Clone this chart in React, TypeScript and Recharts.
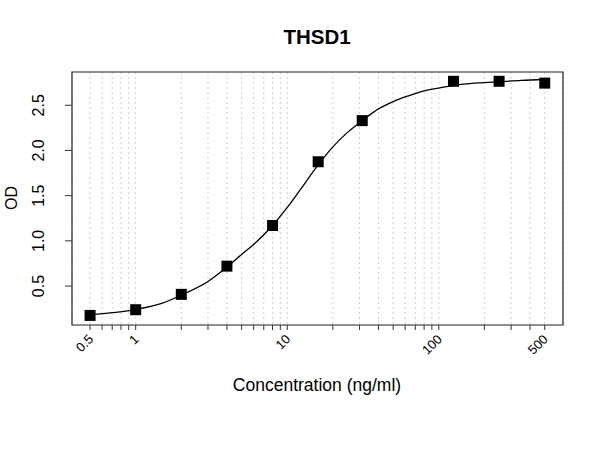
import React from 'react';
import {
  ComposedChart,
  Line,
  Scatter,
  XAxis,
  YAxis,
  CartesianGrid,
  ReferenceArea,
  Customized,
} from 'recharts';

// standards measured (ng/ml) and their OD
const concentrations = [0.5, 1, 2, 4, 8, 16, 31.25, 125, 250, 500];
const odValues = [0.175, 0.238, 0.408, 0.72, 1.17, 1.875, 2.33, 2.765, 2.765, 2.745];

// fitted curve
const curveX = [0.5, 0.7, 1, 1.5, 2, 3, 4, 5, 6, 8, 10, 12, 16, 20, 25, 31.25, 40, 50, 62, 80, 100, 125, 160, 200, 250, 350, 500];
const curveY = [0.18, 0.205, 0.24, 0.31, 0.4, 0.55, 0.71, 0.85, 0.96, 1.17, 1.37, 1.55, 1.84, 2.04, 2.2, 2.33, 2.46, 2.54, 2.6, 2.66, 2.69, 2.72, 2.74, 2.75, 2.76, 2.775, 2.785];

const xGridTicks = [
  0.5, 0.6, 0.7, 0.8, 0.9, 1, 2, 3, 4, 5, 6, 7, 8, 9, 10,
  20, 30, 40, 50, 60, 70, 80, 90, 100, 200, 300, 400, 500,
];
const xLabelled = [0.5, 1, 10, 100, 500];
const yTicks = [0.5, 1, 1.5, 2, 2.5];

const xDomain = [0.38, 660];
const yDomain = [0.069, 2.868];

const points = concentrations.map((x, i) => ({ x, y: odValues[i] }));
const curve = curveX.map((x, i) => ({ x, y: curveY[i] }));

const FONT = "'Liberation Sans', Arial, sans-serif";

const XTick = (props: any) => {
  const { x, payload } = props;
  if (!xLabelled.includes(payload.value)) return null;
  const ax = x + 4;
  const ay = 340;
  return (
    <text
      x={ax}
      y={ay}
      textAnchor="end"
      fontSize={13}
      fill="#000"
      fontFamily={FONT}
      transform={`rotate(-45, ${ax}, ${ay})`}
    >
      {payload.value}
    </text>
  );
};

const YTick = (props: any) => {
  const { y, payload } = props;
  const ax = 44;
  return (
    <text
      x={ax}
      y={y}
      textAnchor="middle"
      fontSize={16}
      fill="#000"
      fontFamily={FONT}
      transform={`rotate(-90, ${ax}, ${y})`}
    >
      {Number(payload.value).toFixed(1)}
    </text>
  );
};

const Square = (props: any) => {
  const { cx, cy } = props;
  return <rect x={cx - 5.5} y={cy - 5.5} width={11} height={11} fill="#000" />;
};

const Labels = () => (
  <g fontFamily={FONT} fill="#000">
    <text x={317} y={44} textAnchor="middle" fontSize={20.5} fontWeight="bold">
      THSD1
    </text>
    <text x={317} y={391} textAnchor="middle" fontSize={17.5}>
      Concentration (ng/ml)
    </text>
    <text x={17} y={198} textAnchor="middle" fontSize={16} transform="rotate(-90, 17, 198)">
      OD
    </text>
  </g>
);

const App = () => {
  return (
    <div style={{ position: 'absolute', left: 0, top: 0, width: 600, height: 450, background: '#fff' }}>
      <ComposedChart
        width={600}
        height={450}
        margin={{ top: 72, right: 37, bottom: 65, left: 10 }}
        style={{ fontFamily: FONT }}
      >
        <CartesianGrid
          horizontal={false}
          vertical={true}
          stroke="#cfcfcf"
          strokeDasharray="2 3"
        />
        <XAxis
          dataKey="x"
          type="number"
          scale="log"
          domain={xDomain}
          allowDataOverflow
          ticks={xGridTicks}
          interval={0}
          height={60}
          axisLine={false}
          tickSize={5}
          tickLine={{ stroke: '#333' }}
          tick={<XTick />}
        />
        <YAxis
          dataKey="y"
          type="number"
          domain={yDomain}
          allowDataOverflow
          ticks={yTicks}
          width={62}
          axisLine={false}
          tickSize={7}
          tickLine={{ stroke: '#333' }}
          tick={<YTick />}
        />
        <ReferenceArea
          x1={xDomain[0]}
          x2={xDomain[1]}
          y1={yDomain[0]}
          y2={yDomain[1]}
          fill="none"
          stroke="#222"
          strokeWidth={1.2}
          fillOpacity={0}
        />
        <Line
          data={curve}
          dataKey="y"
          type="monotone"
          stroke="#000"
          strokeWidth={1.3}
          dot={false}
          activeDot={false}
          isAnimationActive={false}
        />
        <Scatter data={points} dataKey="y" shape={<Square />} isAnimationActive={false} />
        <Customized component={Labels} />
      </ComposedChart>
    </div>
  );
};

export default App;
